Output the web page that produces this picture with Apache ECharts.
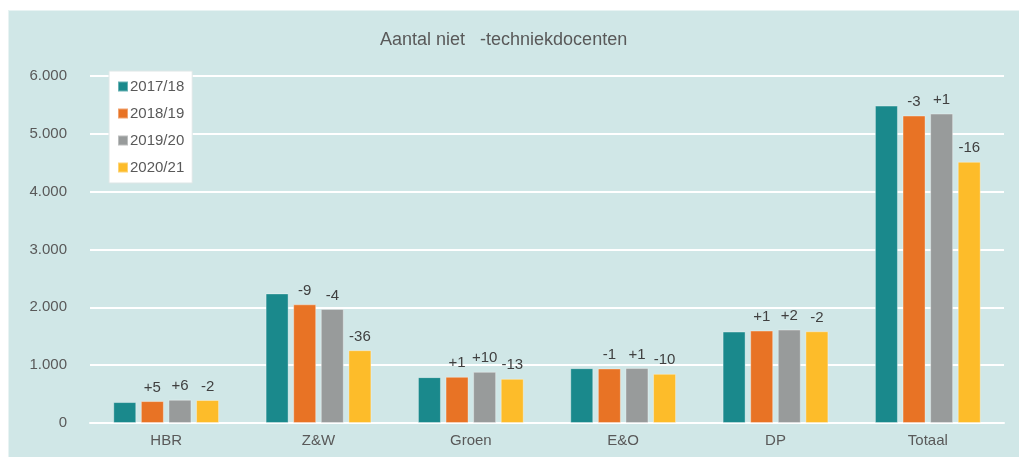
<!DOCTYPE html>
<html>
<head>
<meta charset="utf-8">
<script src="https://cdn.jsdelivr.net/npm/echarts@6/dist/echarts.min.js"></script>
<style>
  html, body { margin: 0; padding: 0; background: #fff; }
  #chart {
    position: absolute;
    left: 8px;
    top: 10px;
    width: 1011px;
    height: 447px;
    border-left: 1px solid #e8f3f3;
    border-top: 1px solid #e8f3f3;
    box-sizing: border-box;
  }
</style>
</head>
<body>
<div id="chart"></div>
<script>
  const categories = ['HBR', 'Z&W', 'Groen', 'E&O', 'DP', 'Totaal'];
  const years = ['2017/18', '2018/19', '2019/20', '2020/21'];
  const values1718 = [362, 2241, 793, 948, 1581, 5488];
  const values1819 = [379, 2052, 798, 943, 1598, 5316];
  const values1920 = [402, 1971, 885, 950, 1615, 5350];
  const values2021 = [397, 1259, 764, 850, 1586, 4517];
  const change1819 = ['+5', '-9', '+1', '-1', '+1', '-3'];
  const change1920 = ['+6', '-4', '+10', '+1', '+2', '+1'];
  const change2021 = ['-2', '-36', '-13', '-10', '-2', '-16'];
  const yTicks = [0, 1000, 2000, 3000, 4000, 5000, 6000];

  const colors = ['#1A898C', '#E87325', '#989B9B', '#FDBC2A'];
  const seriesValues = [values1718, values1819, values1920, values2021];
  const seriesLabels = [null, change1819, change1920, change2021];

  const formatThousands = (v) => String(v).replace(/\B(?=(\d{3})+(?!\d))/g, '.');

  const chart = echarts.init(document.getElementById('chart'));

  chart.setOption({
    backgroundColor: '#D0E7E7',
    animation: false,
    textStyle: { fontFamily: 'Liberation Sans, Arial, sans-serif' },
    title: {
      text: 'Aantal niet   -techniekdocenten',
      left: 366,
      top: 15,
      textStyle: { color: '#595959', fontSize: 18, fontWeight: 'normal' },
    },
    legend: {
      orient: 'vertical',
      left: 100,
      top: 60,
      padding: [8, 8, 8, 8],
      itemWidth: 10,
      itemHeight: 10,
      itemGap: 12,
      backgroundColor: '#ffffff',
      borderColor: '#dde6e6',
      borderWidth: 1,
      icon: 'rect',
      data: years,
      textStyle: { color: '#595959', fontSize: 15, padding: [0, 0, 0, -3] },
    },
    grid: { left: 81, right: 15, top: 65, bottom: 34, containLabel: false },
    xAxis: {
      type: 'category',
      data: categories,
      axisLine: { show: true, lineStyle: { color: '#ffffff', width: 2 } },
      axisTick: { show: false },
      axisLabel: { color: '#595959', fontSize: 15, margin: 10 },
    },
    yAxis: {
      type: 'value',
      min: yTicks[0],
      max: yTicks[yTicks.length - 1],
      interval: 1000,
      axisLine: { show: false },
      axisTick: { show: false },
      axisLabel: { color: '#595959', fontSize: 15, margin: 23, formatter: formatThousands },
      splitLine: { lineStyle: { color: '#ffffff', width: 2 } },
    },
    series: years.map((year, i) => ({
      name: year,
      type: 'bar',
      data: seriesValues[i],
      barWidth: 23,
      barGap: '20%',
      itemStyle: { color: colors[i], borderColor: 'rgba(255,255,255,0.35)', borderWidth: 1 },
      label: seriesLabels[i]
        ? {
            show: true,
            position: 'top',
            distance: 6,
            color: '#404040',
            fontSize: 15,
            formatter: (p) => seriesLabels[i][p.dataIndex],
          }
        : { show: false },
    })),
  });
</script>
</body>
</html>
